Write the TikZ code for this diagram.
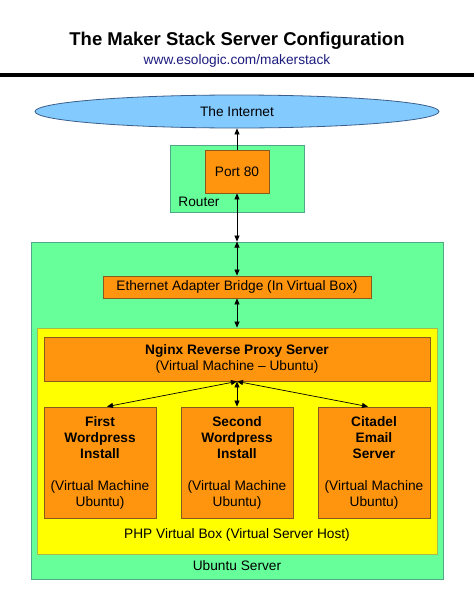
\documentclass[tikz,border=0pt]{standalone}
\usepackage{fontspec}
\setmainfont{Liberation Sans}
\usetikzlibrary{shapes.geometric,arrows.meta}
\definecolor{grn}{HTML}{66FF99}
\definecolor{grnb}{HTML}{4FA886}
\definecolor{org}{HTML}{FF950E}
\definecolor{orgb}{HTML}{8A5A1C}
\definecolor{ylw}{HTML}{FFFF00}
\definecolor{ylwb}{HTML}{A9BA4C}
\definecolor{sky}{HTML}{83CAFF}
\definecolor{skyb}{HTML}{3B5F8A}
\definecolor{navy}{HTML}{1C1C80}
\tikzset{
  txt/.style={font=\fontsize{13.7}{16}\selectfont, text=black, inner sep=0pt},
  greenbox/.style={draw=grnb, fill=grn, line width=0.8pt, inner sep=0pt},
  orangebox/.style={draw=orgb, fill=org, line width=0.8pt, inner sep=0pt, txt, align=center},
  yellowbox/.style={draw=ylwb, fill=ylw, line width=0.8pt, inner sep=0pt},
  link/.style={line width=0.7pt, black, -{Triangle[length=6pt,width=5pt]}},
  dlink/.style={line width=0.7pt, black, {Triangle[length=6pt,width=5pt]}-{Triangle[length=6pt,width=5pt]}},
}
\begin{document}
\begin{tikzpicture}[x=1pt,y=-1pt]
\useasboundingbox (0,0) rectangle (474,613);
\fill[white] (0,0) rectangle (474,613);
% title
\node[txt, font=\fontsize{18.5}{20}\selectfont\bfseries] (title) at (237,41) {The Maker Stack Server Configuration};
\node[txt, text=navy] (sub) at (237,61) {www.esologic.com/makerstack};
\fill[black] (0,73) rectangle (474,77);
% internet
\node[ellipse, draw=skyb, fill=sky, line width=0.8pt, minimum width=404pt, minimum height=33pt, inner sep=0pt, txt] (inet) at (237,111.5) {The Internet};
% router
\node[greenbox, minimum width=134pt, minimum height=67pt] (router) at (237,178.5) {};
\node[orangebox, minimum width=64pt, minimum height=43pt] (port) at (237,171.5) {Port 80};
\node[txt] (routerlbl) at (199,202) {Router};
% ubuntu server
\node[greenbox, minimum width=412pt, minimum height=337pt] (ubuntu) at (237,410.5) {};
\node[orangebox, minimum width=268pt, minimum height=22pt] (eth) at (237,287) {Ethernet Adapter Bridge (In Virtual Box)};
\node[yellowbox, minimum width=400pt, minimum height=226pt] (vbox) at (237,441) {};
\node[orangebox, minimum width=386pt, minimum height=44pt] (nginx) at (237,359) {\textbf{Nginx Reverse Proxy Server}\\(Virtual Machine – Ubuntu)};
\node[orangebox, minimum width=112pt, minimum height=111pt] (wp1) at (100,462.5) {\textbf{First}\\\textbf{Wordpress}\\\textbf{Install}\\[16pt](Virtual Machine\\Ubuntu)};
\node[orangebox, minimum width=112pt, minimum height=111pt] (wp2) at (237,462.5) {\textbf{Second}\\\textbf{Wordpress}\\\textbf{Install}\\[16pt](Virtual Machine\\Ubuntu)};
\node[orangebox, minimum width=112pt, minimum height=111pt] (mail) at (374,462.5) {\textbf{Citadel}\\\textbf{Email}\\\textbf{Server}\\[16pt](Virtual Machine\\Ubuntu)};
\node[txt] (phplbl) at (237,535) {PHP Virtual Box (Virtual Server Host)};
\node[txt] (ubulbl) at (237,566) {Ubuntu Server};
% connectors
\draw[link] (port.north) -- (inet.south);
\draw[dlink] (port.south) -- (ubuntu.north);
\draw[dlink] (ubuntu.north) -- (eth.north);
\draw[dlink] (eth.south) -- (vbox.north);
\draw[dlink] (nginx.south) -- ([xshift=7pt]wp1.north);
\draw[dlink] (nginx.south) -- (wp2.north);
\draw[dlink] (nginx.south) -- ([xshift=-6pt]mail.north);
\end{tikzpicture}
\end{document}
